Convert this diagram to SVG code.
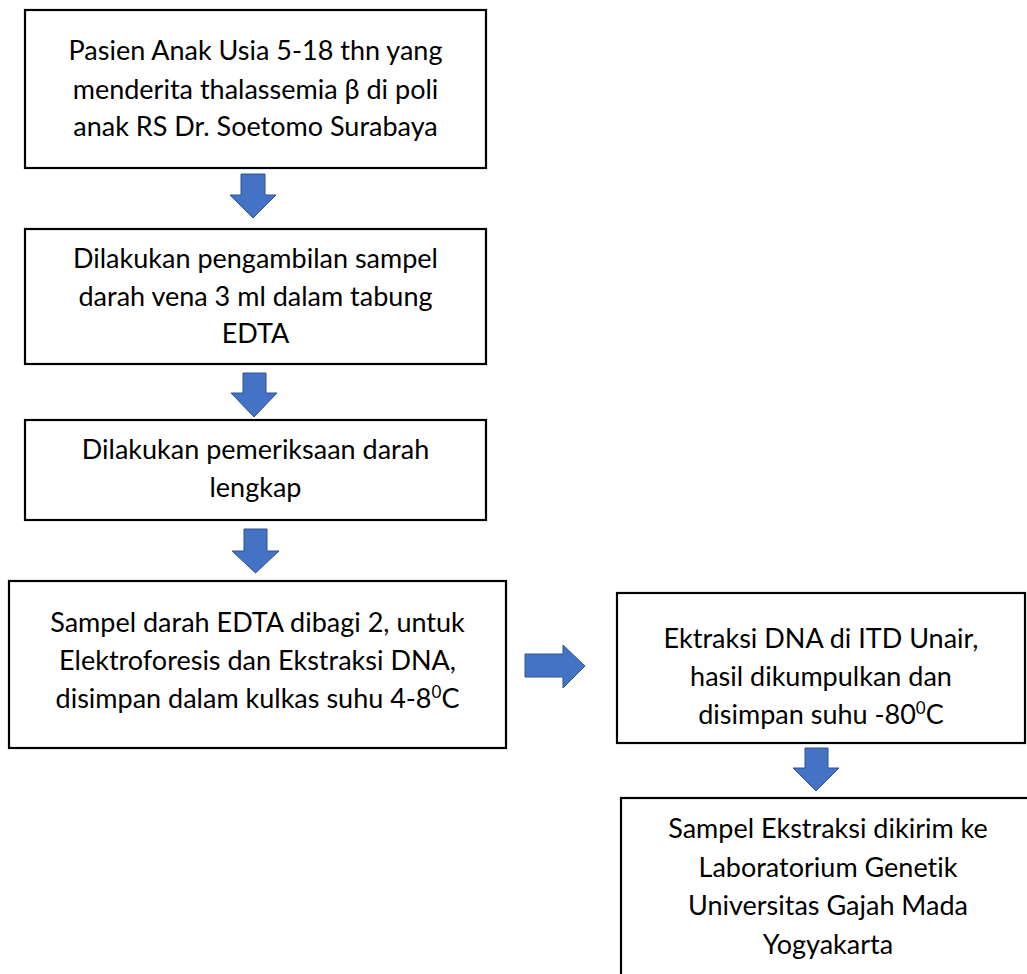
<svg xmlns="http://www.w3.org/2000/svg" width="1027" height="974" viewBox="0 0 1027 974">
<style>
.box{fill:#fff;stroke:#000;stroke-width:2.2}
.t{font-family:Lato,"Open Sans","DejaVu Sans",sans-serif;font-size:27px;fill:#000;text-anchor:middle;font-variant-ligatures:none}
.sup{font-size:17px}
.arr{fill:#4472C4;stroke:#2F528F;stroke-width:1}
</style>
<rect width="1027" height="974" fill="#fff"/>
<g id="connectors">
<path class="arr" d="M241,174 H265 V195 H276 L253,218 L230,195 H241 Z"/>
<path class="arr" d="M243,373 H266 V393 H277 L254,417 L231,393 H243 Z"/>
<path class="arr" d="M244,529 H267 V551 H279 L255.5,573 L232,551 H244 Z"/>
<path class="arr" d="M525,654 H563 V645 L585,666 L563,688 V677 H525 Z"/>
<path class="arr" d="M805,748 H828 V768 H839 L816,791 L793,768 H805 Z"/>
</g>
<g id="node1">
<rect class="box" x="25" y="10" width="461" height="158"/>
<text class="t" x="255.5" y="60">Pasien Anak Usia 5-18 thn yang</text>
<text class="t" x="255.5" y="99">menderita thalassemia β di poli</text>
<text class="t" x="255.5" y="136">anak RS Dr. Soetomo Surabaya</text>
</g>
<g id="node2">
<rect class="box" x="25" y="229" width="461" height="135"/>
<text class="t" x="255.5" y="268">Dilakukan pengambilan sampel</text>
<text class="t" x="255.5" y="306">darah vena 3 ml dalam tabung</text>
<text class="t" x="255.5" y="343">EDTA</text>
</g>
<g id="node3">
<rect class="box" x="25" y="420" width="461" height="100"/>
<text class="t" x="255.5" y="459">Dilakukan pemeriksaan darah</text>
<text class="t" x="255.5" y="497">lengkap</text>
</g>
<g id="node4">
<rect class="box" x="9" y="581" width="497" height="167"/>
<text class="t" x="257.5" y="632">Sampel darah EDTA dibagi 2, untuk</text>
<text class="t" x="257.5" y="670">Elektroforesis dan Ekstraksi DNA,</text>
<text class="t" x="257.5" y="708">disimpan dalam kulkas suhu 4-8<tspan class="sup" dy="-10">0</tspan><tspan dy="10">C</tspan></text>
</g>
<g id="node5">
<rect class="box" x="617" y="593" width="408" height="150"/>
<text class="t" x="821" y="648">Ektraksi DNA di ITD Unair,</text>
<text class="t" x="821" y="686">hasil dikumpulkan dan</text>
<text class="t" x="821" y="724">disimpan suhu -80<tspan class="sup" dy="-10">0</tspan><tspan dy="10">C</tspan></text>
</g>
<g id="node6">
<rect class="box" x="621" y="798" width="414" height="200"/>
<text class="t" x="828" y="838">Sampel Ekstraksi dikirim ke</text>
<text class="t" x="828" y="877">Laboratorium Genetik</text>
<text class="t" x="828" y="915">Universitas Gajah Mada</text>
<text class="t" x="828" y="954">Yogyakarta</text>
</g>
</svg>
